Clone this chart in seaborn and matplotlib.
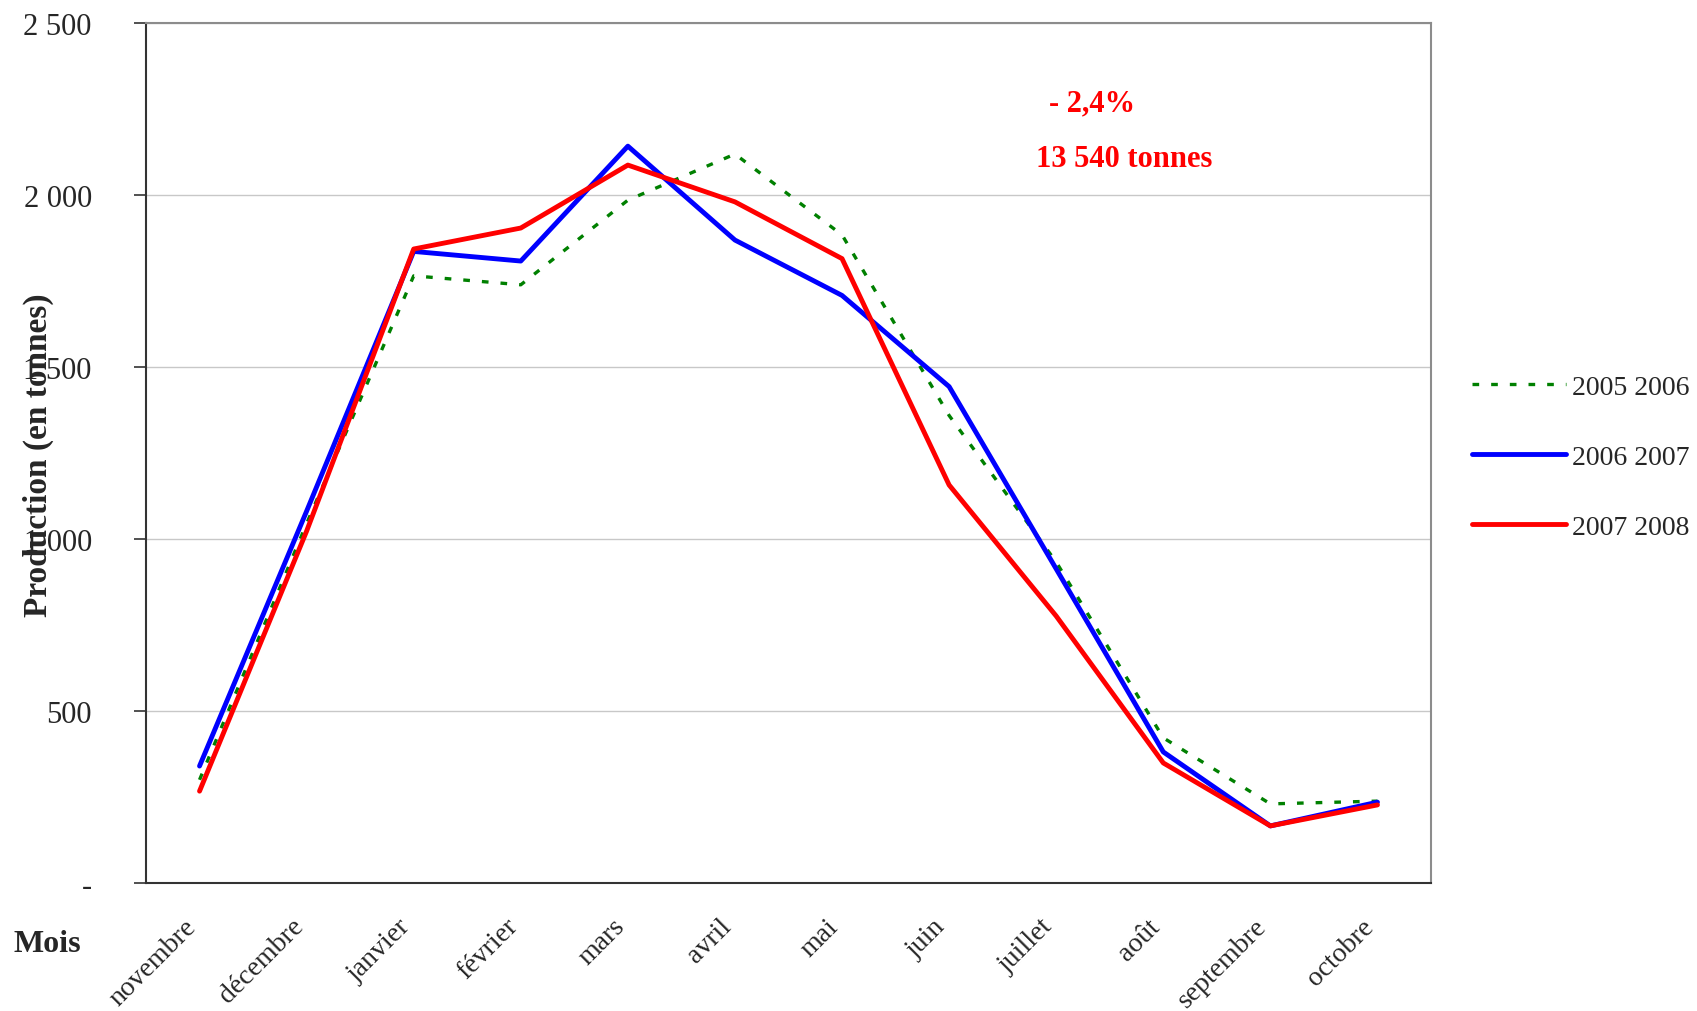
import pandas as pd
import numpy as np
import matplotlib
matplotlib.use("Agg")
import matplotlib.pyplot as plt
import matplotlib.transforms as mtransforms
import seaborn as sns
from matplotlib.ticker import FixedLocator, FuncFormatter

# mois de la campagne (novembre -> octobre)
mois = ["novembre", "décembre", "janvier", "février", "mars", "avril",
        "mai", "juin", "juillet", "août", "septembre", "octobre"]

# production mensuelle en tonnes
prod_2005_2006 = [300, 1045, 1765, 1739, 1985, 2119, 1884, 1359, 933, 422, 230, 238]
prod_2006_2007 = [340, 1081, 1836, 1808, 2142, 1869, 1708, 1443, 913, 381, 166, 235]
prod_2007_2008 = [267, 1023, 1843, 1904, 2087, 1980, 1815, 1157, 776, 349, 166, 227]

saisons = ["2005 2006", "2006 2007", "2007 2008"]
couleurs = ["#008000", "#0000ff", "#ff0000"]

sns.set_style("white")
plt.rcParams['font.family'] = ['Liberation Serif', 'DejaVu Serif']

fig = plt.figure(figsize=(16.97, 10.12), dpi=100)
ax = fig.add_axes([146 / 1697, 1 - 884 / 1012, 1285 / 1697, 860 / 1012])

idx = np.arange(len(mois))
series = [prod_2005_2006, prod_2006_2007, prod_2007_2008]
for saison, vals, col in zip(saisons, series, couleurs):
    df = pd.DataFrame({"mois": idx, "production": vals})
    if saison == "2005 2006":
        sns.lineplot(data=df, x="mois", y="production", ax=ax, color=col,
                     linewidth=2.4, label=saison)
        ax.lines[-1].set_dashes([2.0, 3.6])
    else:
        sns.lineplot(data=df, x="mois", y="production", ax=ax, color=col,
                     linewidth=3.5, label=saison)
        ax.lines[-1].set_solid_capstyle("round")

ax.set_xlim(-0.5, len(mois) - 0.5)
ax.set_ylim(0, 2500)

# axe des x : étiquettes au centre, graduations aux limites
ax.xaxis.set_major_locator(FixedLocator(idx))
ax.set_xticks(np.arange(-0.5, len(mois), 1.0), minor=True)
ax.set_xticklabels(mois, rotation=45, ha="right", rotation_mode="anchor", fontsize=20)
ax.tick_params(axis="x", which="major", length=0, pad=22)
ax.tick_params(axis="x", which="minor", length=9, width=1.2, color="#333333", direction="out")
decal = mtransforms.ScaledTranslation(-0.16, 0, fig.dpi_scale_trans)
for lab in ax.get_xticklabels():
    lab.set_transform(lab.get_transform() + decal)

ax.set_yticks([0, 500, 1000, 1500, 2000, 2500])
ax.yaxis.set_major_formatter(FuncFormatter(
    lambda v, p: "-" if v == 0 else "{:,.0f}".format(v).replace(",", " ")))
ax.tick_params(axis="y", length=9, width=1.2, color="#333333", direction="out",
               pad=30, labelsize=22, left=True)

ax.grid(axis="y", color="#c8c8c8", linewidth=1.0)
ax.grid(axis="x", visible=False)
ax.set_xlabel("")
ax.set_ylabel("")

for side in ["left", "bottom"]:
    ax.spines[side].set_color("#333333")
    ax.spines[side].set_linewidth(1.5)
for side in ["top", "right"]:
    ax.spines[side].set_color("#8c8c8c")
    ax.spines[side].set_linewidth(1.5)

ax.legend_.remove()
handles, labels = ax.get_legend_handles_labels()
fig.legend(handles, labels, loc="center left", bbox_to_anchor=(1472 / 1697, 1 - 458 / 1012),
           frameon=False, fontsize=20, handlelength=3.4, handletextpad=0.2,
           labelspacing=1.6, borderpad=0, borderaxespad=0)

ax.text(0.736, 0.907, "- 2,4%", transform=ax.transAxes, color="#ff0000",
        fontsize=22, fontweight="bold", ha="center", va="center")
ax.text(0.761, 0.843, "13 540 tonnes", transform=ax.transAxes, color="#ff0000",
        fontsize=22, fontweight="bold", ha="center", va="center")

fig.text(38 / 1697, 1 - 455 / 1012, "Production (en tonnes)", rotation=90,
         fontsize=24, fontweight="bold", ha="center", va="center")
fig.text(13 / 1697, 1 - 945 / 1012, "Mois", fontsize=23, fontweight="bold",
         ha="left", va="center")

fig.savefig("out.png", dpi=100)
